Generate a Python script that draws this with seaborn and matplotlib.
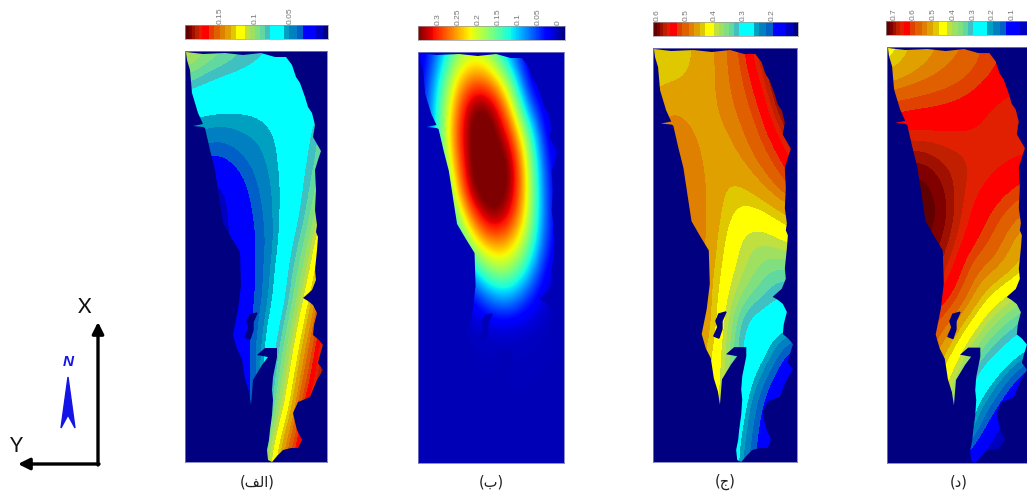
import numpy as np
import pandas as pd
import seaborn as sns
import matplotlib
matplotlib.use("Agg")
import matplotlib.pyplot as plt
from matplotlib.colors import BoundaryNorm, ListedColormap

# shoreline (pixels of the first panel), shared by the four maps
shore_x = [186, 203, 225, 243, 261, 275, 286, 292, 296, 300, 305, 308, 312, 315, 313, 317, 321, 318, 315, 316, 315,
           317, 316, 318, 317, 315, 316, 312, 303, 308, 313, 317, 314, 313, 318, 323, 320, 318, 323, 317, 310, 303,
           298, 293, 295, 297, 302, 298, 291, 283, 277, 272, 268, 267, 269, 270, 272, 273, 272, 273, 277,
           277, 265, 257, 268, 262, 256, 253, 251, 249, 245, 242, 237, 233, 238, 241, 240, 231, 223, 221, 215,
           210, 205, 203, 193, 203, 198, 192, 190, 187]
shore_y = [52, 54, 53, 55, 53, 57, 57, 65, 77, 83, 97, 107, 113, 125, 137, 144, 151, 160, 170, 190, 210,
           225, 232, 237, 250, 270, 280, 290, 298, 301, 305, 313, 325, 335, 339, 345, 355, 363, 370, 380, 397, 400,
           402, 413, 422, 430, 440, 448, 448, 450, 456, 462, 460, 450, 440, 430, 415, 400, 390, 377, 357,
           348, 348, 355, 357, 365, 375, 380, 405, 392, 379, 359, 349, 335, 310, 285, 252, 237, 223, 210, 170,
           150, 128, 127, 126, 124, 113, 93, 70, 60]
hole_x = [257, 250, 247, 249, 245, 250, 253, 253]
hole_y = [313, 315, 322, 328, 337, 339, 330, 322]

field_a = [
    [.118, .105, .097, .090, .082, .079, .075, .072, .072],
    [.092, .084, .078, .075, .074, .073, .072, .072, .073],
    [.066, .063, .062, .061, .061, .065, .070, .070, .080],
    [.050, .050, .047, .050, .053, .057, .068, .075, .100],
    [.033, .030, .027, .037, .046, .055, .068, .080, .100],
    [.010, .008, .008, .022, .040, .052, .068, .085, .110],
    [.008, .008, .008, .018, .034, .052, .070, .090, .125],
    [.008, .008, .008, .016, .031, .050, .078, .100, .145],
    [.008, .008, .008, .016, .031, .056, .085, .110, .160],
    [.008, .008, .008, .016, .031, .059, .090, .125, .175],
    [.008, .008, .008, .016, .036, .070, .100, .140, .190],
    [.008, .008, .008, .015, .040, .078, .110, .155, .200],
    [.008, .008, .008, .015, .038, .085, .120, .170, .200],
    [.008, .008, .008, .015, .035, .095, .130, .190, .200],
    [.008, .008, .008, .015, .060, .110, .150, .200, .200],
    [.008, .008, .008, .015, .080, .120, .170, .200, .200],
]
field_b = [
    [.002, .060, .160, .200, .170, .075, .004, .001, .000],
    [.002, .095, .220, .280, .260, .165, .015, .001, .000],
    [.002, .118, .255, .360, .350, .245, .070, .003, .000],
    [.002, .117, .275, .370, .370, .310, .160, .010, .000],
    [.002, .095, .255, .370, .370, .360, .200, .030, .001],
    [.001, .063, .215, .365, .370, .360, .215, .040, .002],
    [.001, .020, .160, .285, .360, .320, .205, .045, .002],
    [.000, .008, .077, .205, .260, .250, .170, .040, .002],
    [.000, .003, .018, .105, .178, .182, .110, .015, .001],
    [.000, .000, .003, .022, .075, .090, .040, .006, .000],
    [.000, .000, .000, .004, .007, .008, .005, .002, .000],
    [.000, .000, .000, .001, .002, .002, .002, .001, .000],
    [.000, .000, .000, .000, .001, .001, .001, .000, .000],
    [.000, .000, .000, .000, .000, .000, .000, .000, .000],
    [.000, .000, .000, .000, .000, .000, .000, .000, .000],
    [.000, .000, .000, .000, .000, .000, .000, .000, .000],
]
field_c = [
    [.435, .435, .445, .465, .485, .530, .590, .610, .610],
    [.440, .440, .450, .465, .485, .515, .565, .610, .610],
    [.455, .473, .465, .465, .480, .505, .540, .600, .610],
    [.470, .482, .476, .465, .470, .490, .520, .565, .610],
    [.480, .490, .484, .468, .460, .475, .500, .530, .580],
    [.490, .495, .490, .473, .447, .450, .470, .500, .530],
    [.495, .498, .495, .474, .442, .420, .425, .445, .460],
    [.495, .498, .495, .474, .430, .395, .385, .400, .420],
    [.495, .495, .490, .470, .420, .390, .360, .345, .350],
    [.495, .495, .490, .465, .410, .360, .335, .310, .315],
    [.500, .500, .500, .465, .400, .310, .290, .290, .275],
    [.480, .480, .480, .450, .390, .300, .290, .220, .170],
    [.480, .480, .470, .440, .390, .300, .235, .170, .130],
    [.480, .480, .470, .440, .380, .265, .200, .130, .110],
    [.480, .480, .470, .440, .320, .255, .185, .110, .110],
    [.480, .480, .470, .440, .320, .240, .170, .110, .110],
]
field_d = [
    [.440, .490, .515, .535, .550, .585, .610, .620, .630],
    [.500, .520, .540, .560, .580, .600, .625, .640, .650],
    [.595, .605, .612, .618, .625, .640, .655, .660, .670],
    [.650, .652, .652, .652, .653, .655, .665, .672, .690],
    [.700, .700, .700, .685, .675, .668, .662, .658, .645],
    [.730, .735, .735, .710, .680, .660, .648, .630, .610],
    [.730, .735, .735, .725, .675, .645, .615, .575, .550],
    [.730, .730, .730, .710, .665, .625, .580, .530, .500],
    [.720, .720, .720, .690, .635, .565, .545, .510, .470],
    [.680, .680, .680, .650, .600, .520, .460, .410, .380],
    [.640, .640, .620, .585, .520, .440, .370, .340, .300],
    [.600, .600, .580, .530, .440, .360, .310, .270, .210],
    [.580, .580, .550, .450, .390, .290, .230, .140, .060],
    [.550, .550, .520, .450, .340, .225, .140, .050, .000],
    [.500, .500, .480, .420, .270, .160, .050, .000, .000],
    [.450, .450, .400, .300, .120, .030, .000, .000, .000],
]
fields = [field_a, field_b, field_c, field_d]

value_min = [-.004, -.018, .109, 0.0]
value_max = [.201, .350, .614, .740]
background = [-.004, 0.0, .109, 0.0]
is_banded = [True, False, True, True]

# colour bands of the strips, low to high, and where they change (share of the strip)
band_colors = ["#000080", "#0000c0", "#0000ff", "#0060c8", "#0080c0", "#00a0c0", "#00ffff", "#40c0c0",
               "#60d8a0", "#80e080", "#a0e060", "#c0e040", "#ffff00", "#e0c800", "#e0a000", "#e08000",
               "#e06000", "#e04000", "#ff0000", "#e02000", "#c02000", "#a01000", "#800000", "#600000"]
band_edges = [0, .035, .081, .174, .221, .267, .302, .407, .442, .477, .512, .547, .581, .64, .674, .721,
              .756, .802, .837, .884, .907, .93, .953, .977, 1]

tick_values = [[.15, .1, .05], [.3, .25, .2, .15, .1, .05, 0], [.6, .5, .4, .3, .2], [.7, .6, .5, .4, .3, .2, .1]]
tick_labels = [["0.15", "0.1", "0.05"], ["0.3", "0.25", "0.2", "0.15", "0.1", "0.05", "0"],
               ["0.6", "0.5", "0.4", "0.3", "0.2"], ["0.7", "0.6", "0.5", "0.4", "0.3", "0.2", "0.1"]]
# Arabic letters as presentation forms in display order, matplotlib does no shaping
captions = ["(\ufed2\ufedf\ufe8d)", "(\ufe8f)", "(\ufe9d)", "(\ufea9)"]
caption_x = [257, 491, 725, 959]

# left, top, right, bottom in pixels
map_boxes = [(185, 51, 327, 462), (418, 52, 564, 463), (653, 48, 797, 462), (887, 47, 1031, 463)]
strip_boxes = [(185, 25, 328, 39), (418, 26, 565, 40), (653, 22, 798, 36), (886, 21, 1032, 35)]
W, H = 1027, 492

sns.set_theme(style="white")
plt.rcParams["font.family"] = ["Liberation Sans", "DejaVu Sans"]


def px_axes(fig, box):
    left, top, right, bottom = box
    return fig.add_axes([left / W, 1 - bottom / H, (right - left) / W, (bottom - top) / H])


fig = plt.figure(figsize=(W / 100, H / 100), dpi=100)
jet = plt.get_cmap("jet")
bands = ListedColormap(band_colors)
outline = np.column_stack([(np.array(shore_x) - 185) / 142, (np.array(shore_y) - 51) / 411])
hole = np.column_stack([(np.array(hole_x) - 185) / 142, (np.array(hole_y) - 51) / 411])

for i, grid in enumerate(fields):
    vmin, vmax = value_min[i], value_max[i]
    if is_banded[i]:
        cmap = bands
        norm = BoundaryNorm(vmin + np.array(band_edges) * (vmax - vmin), len(band_colors))
    else:
        cmap = jet
        norm = plt.Normalize(vmin, vmax)
    back_color = cmap(norm(background[i]))

    # map panel: one background cell, field clipped to the shoreline on top
    ax = px_axes(fig, map_boxes[i])
    sns.heatmap(pd.DataFrame([[background[i]]]), ax=ax, cmap=cmap, norm=norm,
                cbar=False, xticklabels=False, yticklabels=False)
    shape = ax.fill(outline[:, 0], outline[:, 1], facecolor="none", edgecolor="none")[0]
    dx, dy = 1 / 8 / 2, 1 / 15 / 2
    img = ax.imshow(np.array(grid), cmap=cmap, norm=norm, interpolation="bicubic",
                    interpolation_stage="data", extent=(-dx, 1 + dx, 1 + dy, -dy), aspect="auto", zorder=2)
    img.set_clip_path(shape)
    ax.fill(hole[:, 0], hole[:, 1], color=back_color, zorder=3)
    ax.set_xlim(0, 1)
    ax.set_ylim(1, 0)
    for side in ax.spines.values():
        side.set_visible(True)
        side.set_edgecolor("#7a7ac0")
        side.set_linewidth(0.6)

    # colour strip, high values on the left
    n = 200
    strip = np.linspace(vmax, vmin, n)[None, :]
    sax = px_axes(fig, strip_boxes[i])
    sns.heatmap(strip, ax=sax, cmap=cmap, norm=norm, cbar=False, yticklabels=False)
    sax.xaxis.tick_top()
    sax.set_xticks([(vmax - t) / (vmax - vmin) * n for t in tick_values[i]])
    sax.set_xticklabels(tick_labels[i], rotation=90, fontsize=6, color="#777777")
    sax.tick_params(axis="x", length=1, width=0.4, pad=0, color="#777777", top=True)
    for side in sax.spines.values():
        side.set_visible(True)
        side.set_edgecolor("#999999")
        side.set_linewidth(0.5)

    fig.text(caption_x[i] / W, 1 - 482 / H, captions[i], ha="center", va="center", fontsize=10.5,
             family=["DejaVu Sans"], color="#222222")

# compass
over = fig.add_axes([0, 0, 1, 1])
over.set_xlim(0, W)
over.set_ylim(H, 0)
over.axis("off")
over.patch.set_alpha(0)
arrow = dict(arrowstyle="-|>", color="black", lw=2.4, mutation_scale=17, shrinkA=0, shrinkB=0)
over.annotate("", xy=(98, 322), xytext=(98, 465), arrowprops=arrow)
over.annotate("", xy=(18, 464), xytext=(99, 464), arrowprops=arrow)
over.text(85, 307, "X", fontsize=15, family="Lato", ha="center", va="center", color="#111111")
over.text(16, 446, "Y", fontsize=15, family="Lato", ha="center", va="center", color="#111111")
over.text(68, 362, "N", fontsize=11, family="Liberation Sans", style="italic", weight="bold",
          ha="center", va="center", color="#1414e6")
over.fill([68, 61, 68, 75], [377, 428, 415, 428], color="#1414e6")

fig.savefig("out.png", dpi=100)
